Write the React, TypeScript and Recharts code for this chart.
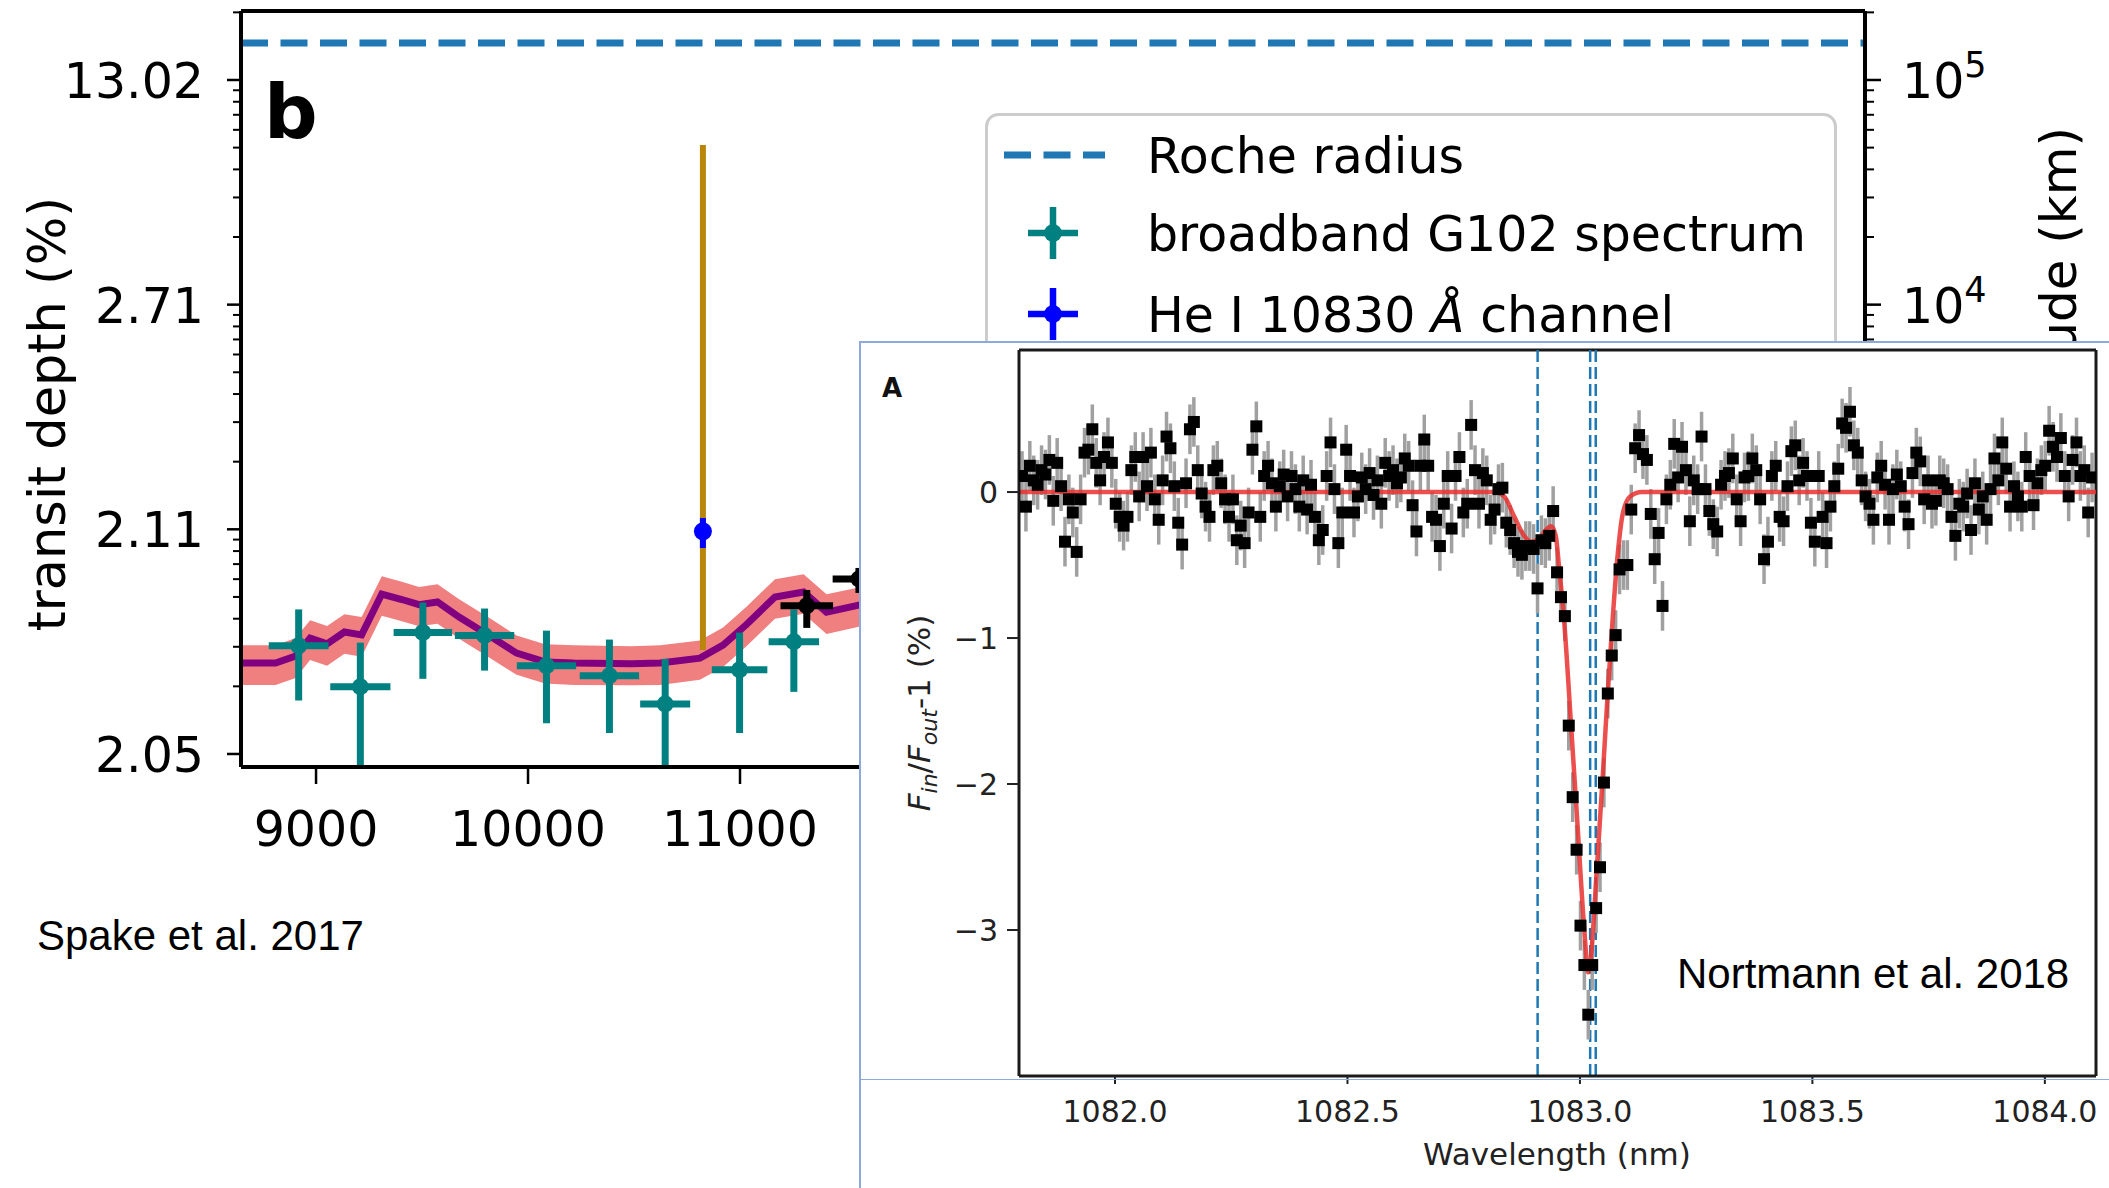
import React from 'react';
import {
  ComposedChart,
  Line,
  Area,
  Scatter,
  ErrorBar,
  XAxis,
  YAxis,
  ReferenceLine,
  Legend,
} from 'recharts';

const MPL_FONT = "'DejaVu Sans', Verdana, sans-serif";
const ARIAL_FONT = "'Liberation Sans', Arial, sans-serif";

// ---------- panel b (Spake et al. 2017): wavelength in Å, altitude in km ----------
const G102_WAVE = [8918, 9209, 9504, 9795, 10087, 10384, 10647, 10998, 11254];
const G102_HALF_BIN = [141, 142, 138, 140, 140, 140, 118, 131, 119];
const G102_ALT = [303, 199, 347, 337, 247, 223, 167, 237, 316];
const G102_ALT_HI = [440, 313, 472, 444, 354, 323, 265, 347, 440];
const G102_ALT_LO = [173, 87.5, 216, 235, 137, 124, 87.5, 124, 189];

const G141_WAVE = [11315, 11561];
const G141_HALF_BIN = [124, 124];
const G141_ALT = [457, 601];
const G141_ALT_HI = [537, 673];
const G141_ALT_LO = [364, 521];

const HE_WAVE = [10825];
const HE_ALT = [980];
const HE_ALT_HI = [1122];
const HE_ALT_LO = [826];
const HE_RANGE_HI = [51300];
const HE_RANGE_LO = [290];

const MODEL_WAVE = [8646, 8809, 8904, 8972, 9052, 9134, 9215, 9310, 9405, 9486, 9573, 9675, 9811, 9946, 10080, 10217, 10488, 10623, 10811, 10920, 11028, 11165, 11300, 11408, 11571];
const MODEL_ALT = [254, 254, 273, 328, 309, 349, 339, 515, 487, 462, 475, 407, 339, 281, 257, 254, 252, 254, 267, 305, 375, 500, 526, 428, 462];
const MODEL_ALT_HI = [305, 305, 328, 394, 371, 419, 407, 618, 584, 554, 570, 488, 407, 337, 308, 305, 302, 305, 320, 366, 450, 600, 631, 514, 554];
const MODEL_ALT_LO = [203, 203, 218, 262, 247, 279, 271, 412, 390, 370, 380, 326, 271, 225, 206, 203, 202, 203, 214, 244, 300, 400, 421, 342, 370];

const ROCHE_ALT = 146000;

const B_X_TICKS = [9000, 10000, 11000, 12000, 13000, 14000, 15000, 16000];
const ALT_MAJOR = [100, 1000, 10000, 100000];
const DEPTH_LABELS = ['2.05', '2.11', '2.71', '13.02'];
const ALT_EXPONENTS = ['2', '3', '4', '5'];
const ALT_TICKS = [
  100, 200, 300, 400, 500, 600, 700, 800, 900,
  1000, 2000, 3000, 4000, 5000, 6000, 7000, 8000, 9000,
  10000, 20000, 30000, 40000, 50000, 60000, 70000, 80000, 90000,
  100000, 200000,
];

// ---------- inset A (Nortmann et al. 2018): wavelength in nm, F_in/F_out - 1 in % ----------
const NORT_START = 1081.8;
const NORT_STEP = 0.0084;
const NORT_ERR = 0.17;
const NORT_FLUX = [
  0.11, -0.10, 0.18, 0.08, 0.05, 0.15, 0.12, 0.22, -0.06, 0.20,
  0.04, -0.34, -0.05, -0.14, -0.41, -0.05, 0.27, 0.29, 0.43, 0.20,
  0.08, 0.24, 0.34, 0.20, -0.08, -0.17, -0.23, -0.17, 0.15, 0.24,
  -0.03, 0.24, 0.04, 0.27, -0.05, -0.19, 0.08, 0.38, 0.30, 0.04,
  -0.21, -0.36, 0.06, 0.43, 0.48, 0.15, -0.01, -0.10, -0.17, 0.15,
  0.18, 0.06, -0.05, -0.17, -0.05, -0.33, -0.23, -0.35, -0.14, 0.29,
  0.45, -0.17, 0.11, 0.18, 0.06, -0.10, 0.04, 0.12, -0.03, 0.11,
  0.02, -0.10, 0.08, -0.12, 0.05, -0.17, -0.33, -0.26, 0.11, 0.34,
  0.02, -0.35, -0.14, 0.29, 0.11, -0.14, -0.03, 0.10, 0.02, 0.13,
  -0.02, 0.08, -0.08, 0.20, 0.11, 0.15, 0.06, 0.10, 0.23, 0.18,
  -0.09, -0.27, 0.18, 0.36, 0.18, -0.17, -0.19, -0.37, -0.08, 0.11,
  -0.25, 0.11, 0.24, -0.14, -0.08, 0.46, 0.15, -0.08, 0.13, 0.08,
  -0.19, -0.12, 0.02, 0.03, -0.21, -0.26, -0.35, -0.41, -0.43, -0.37,
  -0.37, -0.39, -0.66, -0.33, -0.35, -0.30, -0.13, -0.55, -0.72, -0.85,
  -1.60, -2.09, -2.45, -2.97, -3.24, -3.58, -3.24, -2.85, -2.57, -1.99,
  -1.38, -1.12, -0.98, -0.53, -0.50, -0.50, -0.12, 0.30, 0.39, 0.26,
  0.22, -0.15, -0.46, -0.28, -0.78, -0.05, 0.05, 0.33, 0.10, 0.31,
  0.15, -0.20, 0.08, 0.02, 0.38, 0.02, -0.13, -0.22, -0.27, 0.05,
  0.11, 0.13, 0.23, -0.05, -0.20, 0.10, 0.11, 0.23, 0.15, -0.05,
  -0.46, -0.34, 0.11, 0.18, -0.17, -0.20, 0.04, 0.28, 0.32, 0.08,
  0.20, 0.11, -0.21, -0.34, 0.11, -0.17, -0.35, -0.10, 0.04, 0.16,
  0.47, 0.44, 0.55, 0.32, 0.27, 0.08, -0.03, -0.08, -0.19, 0.10,
  0.18, 0.05, -0.19, 0.02, 0.12, 0.04, -0.10, -0.22, 0.13, 0.27,
  0.21, -0.05, 0.08, -0.08, -0.06, 0.08, 0.06, 0.02, -0.17, -0.30,
  -0.08, -0.10, -0.01, -0.26, 0.06, -0.12, -0.03, -0.19, 0.02, 0.23,
  0.08, 0.34, 0.16, -0.10, 0.04, -0.03, -0.10, 0.24, 0.11, -0.09,
  0.06, 0.15, 0.18, 0.42, 0.31, 0.24, 0.37, 0.11, -0.03, 0.22,
  0.34, 0.11, 0.15, -0.14, 0.10,
];
const NORT_MODEL_WAVE = [1081.79, 1082.816, 1082.837, 1082.859, 1082.88, 1082.895, 1082.912, 1082.927, 1082.938, 1082.948, 1082.955, 1082.966, 1082.981, 1082.995, 1083.009, 1083.018, 1083.038, 1083.049, 1083.058, 1083.067, 1083.08, 1083.092, 1083.108, 1083.133, 1084.12];
const NORT_MODEL_FLUX = [0, 0, -0.03, -0.17, -0.3, -0.34, -0.32, -0.26, -0.235, -0.3, -0.51, -0.88, -1.6, -2.29, -2.98, -3.29, -2.5, -1.95, -1.47, -1.03, -0.47, -0.15, -0.03, 0, 0];
const HE_TRIPLET = [1082.909, 1083.022, 1083.034];
const NORT_X_TICKS = [1082.0, 1082.5, 1083.0, 1083.5, 1084.0];
const NORT_Y_TICKS = [0, -1, -2, -3];

// ---------- layout ----------
const W = 2109;
const H = 1188;
const B_LEFT = 241;
const B_RIGHT = 1865;
const B_TOP = 11;
const B_BOTTOM = 767;
const B_X_DOMAIN = [8646, 16307];
const B_Y_DOMAIN = [87.5, 202800];

const LEG_X = 985;
const LEG_Y = 113;
const LEG_W = 852;
const LEG_H = 262;

const INSET_X = 860;
const INSET_Y = 342;
const INSET_W = W - INSET_X;
const INSET_H = H - INSET_Y;
const A_LEFT = 159;
const A_TOP = 8;
const A_RIGHT = 13;
const A_BOTTOM = 112;
const A_PLOT_BOTTOM = INSET_H - A_BOTTOM;
const A_X_DOMAIN = [1081.7935, 1084.11];
const A_Y_DOMAIN = [-4.0, 0.973];

const TEAL = '#008080';
const ROCHE_BLUE = '#1f77b4';
const FRAME = { stroke: '#000', strokeWidth: 4 };
const A_FRAME = { stroke: '#1a1a1a', strokeWidth: 3 };

const g102Data = G102_WAVE.map((x, i) => ({
  x,
  y: G102_ALT[i],
  xerr: G102_HALF_BIN[i],
  yerr: [G102_ALT[i] - G102_ALT_LO[i], G102_ALT_HI[i] - G102_ALT[i]],
}));
const g141Data = G141_WAVE.map((x, i) => ({
  x,
  y: G141_ALT[i],
  xerr: G141_HALF_BIN[i],
  yerr: [G141_ALT[i] - G141_ALT_LO[i], G141_ALT_HI[i] - G141_ALT[i]],
}));
const heData = HE_WAVE.map((x, i) => ({
  x,
  y: HE_ALT[i],
  yerr: [HE_ALT[i] - HE_ALT_LO[i], HE_ALT_HI[i] - HE_ALT[i]],
  range: [HE_ALT[i] - HE_RANGE_LO[i], HE_RANGE_HI[i] - HE_ALT[i]],
}));
const modelData = MODEL_WAVE.map((x, i) => ({
  x,
  y: MODEL_ALT[i],
  band: [MODEL_ALT_LO[i], MODEL_ALT_HI[i]],
}));
const nortData = NORT_FLUX.map((y, i) => ({ x: NORT_START + i * NORT_STEP, y, err: NORT_ERR }));
const nortModel = NORT_MODEL_WAVE.map((x, i) => ({ x, y: NORT_MODEL_FLUX[i] }));

// ---------- ticks ----------
const BXTick = (p: any) => (
  <g>
    <line x1={p.x} x2={p.x} y1={B_BOTTOM} y2={B_BOTTOM + 17} stroke="#000" strokeWidth={2.5} />
    <text x={p.x} y={B_BOTTOM + 79} textAnchor="middle" fontSize={49} fontFamily={MPL_FONT} fill="#000">
      {p.payload.value}
    </text>
  </g>
);

const BLeftTick = (p: any) => {
  const idx = ALT_MAJOR.indexOf(p.payload.value);
  const major = idx >= 0;
  return (
    <g>
      <line x1={B_LEFT - (major ? 14 : 8)} x2={B_LEFT} y1={p.y} y2={p.y} stroke="#000" strokeWidth={major ? 2.5 : 2} />
      {major && (
        <text x={B_LEFT - 37} y={p.y + 18} textAnchor="end" fontSize={49} fontFamily={MPL_FONT} fill="#000">
          {DEPTH_LABELS[idx]}
        </text>
      )}
    </g>
  );
};

const BRightTick = (p: any) => {
  const idx = ALT_MAJOR.indexOf(p.payload.value);
  const major = idx >= 0;
  return (
    <g>
      <line x1={B_RIGHT} x2={B_RIGHT + (major ? 16 : 9)} y1={p.y} y2={p.y} stroke="#000" strokeWidth={major ? 2.5 : 2} />
      {major && (
        <text x={B_RIGHT + 37} y={p.y + 18} fontSize={49} fontFamily={MPL_FONT} fill="#000">
          10
          <tspan fontSize={35} dy={-21}>
            {ALT_EXPONENTS[idx]}
          </tspan>
        </text>
      )}
    </g>
  );
};

const AXTick = (p: any) => (
  <g>
    <line x1={p.x} x2={p.x} y1={A_PLOT_BOTTOM} y2={A_PLOT_BOTTOM + 8} stroke="#222" strokeWidth={2} />
    <text x={p.x} y={A_PLOT_BOTTOM + 46} textAnchor="middle" fontSize={30} fontFamily={MPL_FONT} fill="#222">
      {Number(p.payload.value).toFixed(1)}
    </text>
  </g>
);

const AYTick = (p: any) => {
  const v = p.payload.value;
  return (
    <g>
      <line x1={A_LEFT - 12} x2={A_LEFT} y1={p.y} y2={p.y} stroke="#222" strokeWidth={2} />
      <text x={A_LEFT - 21} y={p.y + 11} textAnchor="end" fontSize={30} fontFamily={MPL_FONT} fill="#222">
        {v === 0 ? '0' : '\u2212' + Math.abs(v)}
      </text>
    </g>
  );
};

// ---------- legend ----------
const LegendBox = () => (
  <svg width={LEG_W} height={LEG_H} style={{ display: 'block' }}>
    <rect x={1.5} y={1.5} width={LEG_W - 3} height={LEG_H - 3} rx={12} fill="#fff" stroke="#cccccc" strokeWidth={3} />
    <line x1={19} x2={120} y1={42} y2={42} stroke={ROCHE_BLUE} strokeWidth={7} strokeDasharray="27 12.5" />
    <text x={162} y={60} fontSize={49} fontFamily={MPL_FONT} fill="#000">Roche radius</text>
    <g stroke={TEAL} strokeWidth={6.5}>
      <line x1={68} x2={68} y1={94} y2={146} />
      <line x1={43} x2={93} y1={120} y2={120} />
    </g>
    <circle cx={68} cy={120} r={9} fill={TEAL} />
    <text x={162} y={138} fontSize={49} fontFamily={MPL_FONT} fill="#000">broadband G102 spectrum</text>
    <g stroke="#0000ff" strokeWidth={6.5}>
      <line x1={68} x2={68} y1={175} y2={227} />
      <line x1={43} x2={93} y1={201} y2={201} />
    </g>
    <circle cx={68} cy={201} r={9} fill="#0000ff" />
    <text x={162} y={219} fontSize={49} fontFamily={MPL_FONT} fill="#000">
      He I 10830 <tspan fontStyle="italic">Å</tspan> channel
    </text>
  </svg>
);

function PanelB() {
  return (
    <div style={{ position: 'absolute', left: 0, top: 0 }}>
      <ComposedChart width={W} height={H} margin={{ top: B_TOP, right: 0, bottom: 0, left: 0 }}>
        <XAxis
          dataKey="x"
          type="number"
          domain={B_X_DOMAIN}
          allowDataOverflow
          ticks={B_X_TICKS}
          interval={0}
          height={H - B_BOTTOM}
          tickLine={false}
          axisLine={FRAME}
          tick={(p: any) => <BXTick {...p} />}
        />
        <XAxis
          xAxisId="top"
          dataKey="x"
          orientation="top"
          type="number"
          domain={B_X_DOMAIN}
          allowDataOverflow
          height={0}
          tick={false}
          tickLine={false}
          axisLine={FRAME}
        />
        <YAxis
          type="number"
          scale="log"
          domain={B_Y_DOMAIN}
          allowDataOverflow
          ticks={ALT_TICKS}
          interval={0}
          width={B_LEFT}
          tickLine={false}
          axisLine={FRAME}
          tick={(p: any) => <BLeftTick {...p} />}
        />
        <YAxis
          yAxisId="right"
          orientation="right"
          type="number"
          scale="log"
          domain={B_Y_DOMAIN}
          allowDataOverflow
          ticks={ALT_TICKS}
          interval={0}
          width={W - B_RIGHT}
          tickLine={false}
          axisLine={FRAME}
          tick={(p: any) => <BRightTick {...p} />}
        />
        <Legend
          layout="vertical"
          align="center"
          verticalAlign="middle"
          wrapperStyle={{ left: LEG_X, top: LEG_Y, width: LEG_W, height: LEG_H }}
          content={() => <LegendBox />}
        />
        <ReferenceLine y={ROCHE_ALT} stroke={ROCHE_BLUE} strokeWidth={7} strokeDasharray="27 12.5" />
        <ReferenceLine y={B_Y_DOMAIN[1]} stroke="#000" strokeWidth={4} />
        <Area data={modelData} dataKey="band" type="linear" fill="#f08080" fillOpacity={1} stroke="none" isAnimationActive={false} />
        <Line data={modelData} dataKey="y" type="linear" stroke="#800080" strokeWidth={7} dot={false} isAnimationActive={false} />
        <Scatter
          data={heData}
          dataKey="y"
          xAxisId="top"
          yAxisId="right"
          isAnimationActive={false}
          shape={() => <g />}
        >
          <ErrorBar dataKey="range" direction="y" width={0} stroke="#b8860b" strokeWidth={6} />
        </Scatter>
        <Scatter
          data={g102Data}
          dataKey="y"
          isAnimationActive={false}
          shape={(p: any) => <circle cx={p.cx} cy={p.cy} r={8.5} fill={TEAL} />}
        >
          <ErrorBar dataKey="xerr" direction="x" width={0} stroke={TEAL} strokeWidth={7} />
          <ErrorBar dataKey="yerr" direction="y" width={0} stroke={TEAL} strokeWidth={7} />
        </Scatter>
        <Scatter
          data={g141Data}
          dataKey="y"
          isAnimationActive={false}
          shape={(p: any) => <circle cx={p.cx} cy={p.cy} r={8.5} fill="#000" />}
        >
          <ErrorBar dataKey="xerr" direction="x" width={0} stroke="#000" strokeWidth={7} />
          <ErrorBar dataKey="yerr" direction="y" width={0} stroke="#000" strokeWidth={7} />
        </Scatter>
        <Scatter
          data={heData}
          dataKey="y"
          isAnimationActive={false}
          shape={(p: any) => <circle cx={p.cx} cy={p.cy} r={9} fill="#0000ff" />}
        >
          <ErrorBar dataKey="yerr" direction="y" width={0} stroke="#0000ff" strokeWidth={6} />
        </Scatter>
      </ComposedChart>
    </div>
  );
}

function PanelBText() {
  return (
    <svg width={W} height={H} style={{ position: 'absolute', left: 0, top: 0, pointerEvents: 'none' }}>
      <text x={264} y={138} fontSize={75} fontWeight="bold" fontFamily={MPL_FONT} fill="#000">b</text>
      <text x={65} y={414} transform="rotate(-90 65 414)" textAnchor="middle" fontSize={51} fontFamily={MPL_FONT} fill="#000">
        transit depth (%)
      </text>
      <text x={2076} y={127} transform="rotate(-90 2076 127)" textAnchor="end" fontSize={50} fontFamily={MPL_FONT} fill="#000">
        altitude (km)
      </text>
      <text x={37} y={950} fontSize={42} fontFamily={ARIAL_FONT} fill="#000">Spake et al. 2017</text>
    </svg>
  );
}

function InsetPanel() {
  return (
    <>
      <div style={{ position: 'absolute', left: INSET_X, top: INSET_Y, width: INSET_W, height: INSET_H, background: '#fff' }}>
        <ComposedChart width={INSET_W} height={INSET_H} margin={{ top: A_TOP, right: A_RIGHT, bottom: 0, left: 0 }}>
          <XAxis
            dataKey="x"
            type="number"
            domain={A_X_DOMAIN}
            allowDataOverflow
            ticks={NORT_X_TICKS}
            interval={0}
            height={A_BOTTOM}
            tickLine={false}
            axisLine={A_FRAME}
            tick={(p: any) => <AXTick {...p} />}
          />
          <XAxis
            xAxisId="top"
            dataKey="x"
            orientation="top"
            type="number"
            domain={A_X_DOMAIN}
            allowDataOverflow
            height={0}
            tick={false}
            tickLine={false}
            axisLine={A_FRAME}
          />
          <YAxis
            type="number"
            domain={A_Y_DOMAIN}
            allowDataOverflow
            ticks={NORT_Y_TICKS}
            interval={0}
            width={A_LEFT}
            tickLine={false}
            axisLine={A_FRAME}
            tick={(p: any) => <AYTick {...p} />}
          />
          <YAxis
            yAxisId="r"
            orientation="right"
            type="number"
            domain={A_Y_DOMAIN}
            allowDataOverflow
            width={0}
            tick={false}
            tickLine={false}
            axisLine={A_FRAME}
          />
          <ReferenceLine y={A_Y_DOMAIN[1]} stroke="#1a1a1a" strokeWidth={3} />
          <ReferenceLine x={A_X_DOMAIN[1]} stroke="#1a1a1a" strokeWidth={3} />
          {HE_TRIPLET.map((w) => (
            <ReferenceLine key={w} x={w} stroke={ROCHE_BLUE} strokeWidth={2.5} strokeDasharray="12 5" />
          ))}
          <Scatter
            data={nortData}
            dataKey="y"
            isAnimationActive={false}
            shape={(p: any) => <rect x={p.cx - 6} y={p.cy - 6} width={12} height={12} fill="#000" />}
          >
            <ErrorBar dataKey="err" direction="y" width={0} stroke="#a0a0a0" strokeWidth={3.5} />
          </Scatter>
          <Line
            data={nortModel}
            dataKey="y"
            xAxisId="top"
            yAxisId="r"
            type="monotone"
            stroke="#e8302f"
            strokeOpacity={0.85}
            strokeWidth={4.5}
            dot={false}
            isAnimationActive={false}
          />
        </ComposedChart>
        <svg width={INSET_W} height={INSET_H} style={{ position: 'absolute', left: 0, top: 0, pointerEvents: 'none' }}>
          <text x={22} y={55} fontSize={26} fontWeight="bold" fontFamily={MPL_FONT} fill="#111">A</text>
          <text x={817} y={646} fontSize={42} fontFamily={ARIAL_FONT} fill="#000">Nortmann et al. 2018</text>
          <text x={697} y={823} textAnchor="middle" fontSize={31} fontFamily={MPL_FONT} fill="#222">Wavelength (nm)</text>
          <text x={70} y={371} transform="rotate(-90 70 371)" textAnchor="middle" fontSize={31} fontFamily={MPL_FONT} fill="#222">
            <tspan fontStyle="italic">F</tspan>
            <tspan fontStyle="italic" fontSize={22} dy={7}>in</tspan>
            <tspan dy={-7}>/</tspan>
            <tspan fontStyle="italic">F</tspan>
            <tspan fontStyle="italic" fontSize={22} dy={7}>out</tspan>
            <tspan dy={-7}>-1 (%)</tspan>
          </text>
        </svg>
      </div>
      <div style={{ position: 'absolute', left: INSET_X - 1, top: INSET_Y - 1, width: 1.5, height: INSET_H + 1, background: '#8eaadb' }} />
      <div style={{ position: 'absolute', left: INSET_X - 1, top: INSET_Y - 1, width: INSET_W + 1, height: 1.5, background: '#8eaadb' }} />
      <div style={{ position: 'absolute', left: INSET_X, top: 1078.5, width: INSET_W, height: 1.5, background: '#8eaadb' }} />
    </>
  );
}

export default function App() {
  return (
    <div style={{ position: 'absolute', left: 0, top: 0, width: W, height: H, background: '#fff', overflow: 'hidden' }}>
      <PanelB />
      <PanelBText />
      <InsetPanel />
    </div>
  );
}
